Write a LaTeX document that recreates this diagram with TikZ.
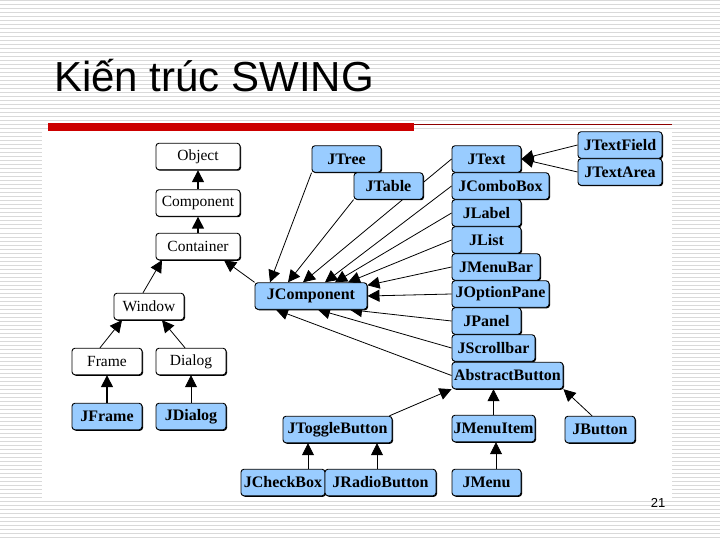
\documentclass[tikz,border=0pt]{standalone}
\usepackage{fontspec}
\setmainfont{Liberation Serif}
\newfontfamily\titlefont{Liberation Sans}
\usetikzlibrary{arrows.meta,shadows}
\definecolor{swingblue}{RGB}{153,204,255}
\definecolor{barred}{RGB}{204,0,0}
\pgfdeclarelayer{bg}
\pgfdeclarelayer{edges}
\pgfsetlayers{bg,edges,main}
\tikzset{
  classbox/.style={draw=black, line width=0.9pt, rounded corners=3pt,
    minimum height=26.5pt, inner sep=1pt, font=\fontsize{15.5}{15.5}\selectfont,
    drop shadow={shadow xshift=1pt, shadow yshift=-1pt, fill=black, opacity=1}},
  awtbox/.style={classbox, fill=white},
  jbox/.style={classbox, fill=swingblue, font=\fontsize{16}{16}\selectfont\bfseries},
  inh/.style={-{Triangle[length=12pt,width=12pt]}, line width=0.8pt},
}
\begin{document}
\begin{tikzpicture}[x=1pt,y=-1pt]
\useasboundingbox (0,0) rectangle (720,540);

% Slide background
\begin{pgfonlayer}{bg}
  \fill[white] (0,0) rectangle (720,540);
  \foreach \y in {1,5,...,540} {
    \draw[black!15, line width=1pt] (0,\y) -- (720,\y);
  }
  \fill[white] (42,132) rectangle (672,498);
  \fill[barred] (48,123) rectangle (414,131.5);
  \draw[barred!70!black, line width=0.8pt] (414,124) -- (672,124);
\end{pgfonlayer}

% Title and page number
\node[anchor=base west, inner sep=0pt, font=\titlefont\fontsize{42}{42}\selectfont] (title) at (54,92) {Kiến trúc SWING};
\node[inner sep=0pt, font=\titlefont\fontsize{13}{13}\selectfont] (pagenum) at (658,503) {21};

% AWT classes
\node[awtbox, minimum width=84pt] (object) at (198,156.5) {Object};
\node[awtbox, minimum width=84pt] (component) at (198,203) {Component};
\node[awtbox, minimum width=84pt] (container) at (198,246.5) {Container};
\node[awtbox, minimum width=70pt] (window) at (149,306.5) {Window};
\node[awtbox, minimum width=70pt] (frame) at (107,361.5) {Frame};
\node[awtbox, minimum width=70pt] (dialog) at (191,361.5) {Dialog};

% Swing classes
\node[jbox, minimum width=70pt] (jframe) at (107,416.5) {JFrame};
\node[jbox, minimum width=70pt] (jdialog) at (191,416.5) {JDialog};
\node[jbox, minimum width=69pt] (jtree) at (346.5,159) {JTree};
\node[jbox, minimum width=69pt] (jtable) at (388.5,186) {JTable};
\node[jbox, minimum width=112pt] (jcomponent) at (311,296) {JComponent};

\node[jbox, minimum width=69pt] (jtext) at (486.5,159) {JText};
\node[jbox, minimum width=97pt] (jcombobox) at (500.5,186) {JComboBox};
\node[jbox, minimum width=69pt] (jlabel) at (486.5,213) {JLabel};
\node[jbox, minimum width=69pt] (jlist) at (486.5,240) {JList};
\node[jbox, minimum width=88pt] (jmenubar) at (496,267) {JMenuBar};
\node[jbox, minimum width=97pt] (joptionpane) at (500.5,294) {JOptionPane};
\node[jbox, minimum width=69pt] (jpanel) at (486.5,321) {JPanel};
\node[jbox, minimum width=83pt] (jscrollbar) at (493.5,348) {JScrollbar};
\node[jbox, minimum width=111pt] (abstractbutton) at (507.5,375.5) {AbstractButton};

\node[jbox, minimum width=84pt] (jtextfield) at (620,145) {JTextField};
\node[jbox, minimum width=84pt] (jtextarea) at (620,172) {JTextArea};

\node[jbox, minimum width=109pt] (jtogglebutton) at (337.5,429.5) {JToggleButton};
\node[jbox, minimum width=84pt] (jcheckbox) at (283,482.5) {JCheckBox};
\node[jbox, minimum width=111pt] (jradiobutton) at (380.5,482.5) {JRadioButton};
\node[jbox, minimum width=83pt] (jmenuitem) at (493.5,428.5) {JMenuItem};
\node[jbox, minimum width=70pt] (jbutton) at (600,429.5) {JButton};
\node[jbox, minimum width=69pt] (jmenu) at (486.5,482.5) {JMenu};

% Inheritance arrows
\begin{pgfonlayer}{edges}
  \draw[inh, line width=1.4pt] (component.north) -- (object.south);
  \draw[inh, line width=1.4pt] (container.north) -- (component.south);
  \draw[inh] ([xshift=-6pt]window.north) -- ([xshift=-36pt]container.south);
  \draw[inh] (jcomponent.north west) -- ([xshift=26pt]container.south);
  \draw[inh] ([xshift=-7pt]frame.north) -- ([xshift=-27pt]window.south);
  \draw[inh] ([xshift=-6pt]dialog.north) -- ([xshift=13pt]window.south);
  \draw[inh, line width=1.4pt] (jframe.north) -- (frame.south);
  \draw[inh] (jdialog.north) -- (dialog.south);

  \draw[inh] (jtree.south west) -- ([xshift=-41pt]jcomponent.north);
  \draw[inh] (jtable.south west) -- ([xshift=-23pt]jcomponent.north);
  \draw[inh] (jtext.west) -- ([xshift=-8pt]jcomponent.north);
  \draw[inh] (jcombobox.west) -- ([xshift=14pt]jcomponent.north);
  \draw[inh] (jlabel.west) -- ([xshift=24pt]jcomponent.north);
  \draw[inh] (jlist.west) -- ([xshift=37pt]jcomponent.north);
  \draw[inh] (jmenubar.west) -- ([yshift=-3pt]jcomponent.north east);
  \draw[inh] (joptionpane.west) -- (jcomponent.east);
  \draw[inh] (jpanel.west) -- ([xshift=39pt]jcomponent.south);
  \draw[inh] (jscrollbar.west) -- ([xshift=7pt]jcomponent.south);
  \draw[inh] (abstractbutton.west) -- ([xshift=-35pt]jcomponent.south);

  \draw[inh] (jtextfield.west) -- (jtext.east);
  \draw[inh] (jtextarea.west) -- (jtext.east);

  \draw[inh] ([xshift=-3pt]jtogglebutton.north east) -- (abstractbutton.south west);
  \draw[inh] (jmenuitem.north) -- ([xshift=-14pt]abstractbutton.south);
  \draw[inh] ([xshift=-8pt]jbutton.north) -- (abstractbutton.south east);
  \draw[inh] ([xshift=25pt]jcheckbox.north) -- ([xshift=-29.5pt]jtogglebutton.south);
  \draw[inh] ([xshift=-3.5pt]jradiobutton.north) -- ([xshift=39.5pt]jtogglebutton.south);
  \draw[inh] ([xshift=9.5pt]jmenu.north) -- ([xshift=2.5pt]jmenuitem.south);
\end{pgfonlayer}
\end{tikzpicture}
\end{document}
